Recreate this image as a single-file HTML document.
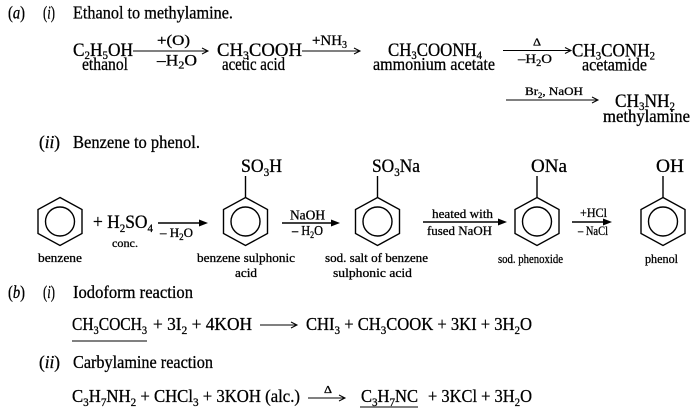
<!DOCTYPE html>
<html>
<head>
<meta charset="utf-8">
<style>
  html, body { margin:0; padding:0; background:#fff; }
  body { width:698px; height:418px; overflow:hidden; }
  svg { display:block; }
  text { font-family:"Liberation Serif", "DejaVu Serif", serif; fill:#000; stroke:#000; stroke-width:0.3px; }
  .m { font-size:18px; }
  .f { font-size:19px; }
  .s { font-size:13px; }
  .it { font-style:italic; }
</style>
</head>
<body>
<svg width="698" height="418" viewBox="0 0 698 418" xmlns="http://www.w3.org/2000/svg">
  <!-- ================= (a)(i) ================= -->
  <text class="m" x="8" y="18.5" textLength="17" lengthAdjust="spacingAndGlyphs">(<tspan class="it">a</tspan>)</text>
  <text class="m" x="43" y="18.5" textLength="12" lengthAdjust="spacingAndGlyphs">(<tspan class="it">i</tspan>)</text>
  <text class="m" x="73" y="18.5" textLength="160" lengthAdjust="spacingAndGlyphs">Ethanol to methylamine.</text>

  <!-- C2H5OH -->
  <text class="f" x="73" y="56" textLength="60" lengthAdjust="spacingAndGlyphs">C<tspan dy="3" font-size="12">2</tspan><tspan dy="-3">H</tspan><tspan dy="3" font-size="12">5</tspan><tspan dy="-3">OH</tspan></text>
  <text class="m" x="82" y="70" textLength="46" lengthAdjust="spacingAndGlyphs">ethanol</text>

  <!-- arrow 1 -->
  <line x1="133" y1="51" x2="208" y2="51" stroke="#000" stroke-width="1"/>
  <path d="M202,48 L208,51 L202,54" fill="none" stroke="#000" stroke-width="1"/>
  <text x="157" y="45" font-size="15" textLength="33" lengthAdjust="spacingAndGlyphs">+(O)</text>
  <text x="157" y="65.5" font-size="16" textLength="40" lengthAdjust="spacingAndGlyphs">–H<tspan dy="3" font-size="11">2</tspan><tspan dy="-3">O</tspan></text>

  <!-- CH3COOH -->
  <text class="f" x="217" y="56" textLength="85" lengthAdjust="spacingAndGlyphs">CH<tspan dy="3" font-size="12">3</tspan><tspan dy="-3">COOH</tspan></text>
  <text class="m" x="222" y="70" textLength="63" lengthAdjust="spacingAndGlyphs">acetic acid</text>

  <!-- arrow 2 -->
  <line x1="302" y1="51" x2="360" y2="51" stroke="#000" stroke-width="1"/>
  <path d="M354,48 L360,51 L354,54" fill="none" stroke="#000" stroke-width="1"/>
  <text x="312" y="45" font-size="15" textLength="35" lengthAdjust="spacingAndGlyphs">+NH<tspan dy="3" font-size="10">3</tspan></text>

  <!-- CH3COONH4 -->
  <text class="f" x="388" y="56" textLength="94" lengthAdjust="spacingAndGlyphs">CH<tspan dy="3" font-size="12">3</tspan><tspan dy="-3">COONH</tspan><tspan dy="3" font-size="12">4</tspan></text>
  <text class="m" x="373" y="70" textLength="122" lengthAdjust="spacingAndGlyphs">ammonium acetate</text>

  <!-- arrow 3 -->
  <line x1="503" y1="50.5" x2="571" y2="50.5" stroke="#000" stroke-width="1"/>
  <path d="M565,47.5 L571,50.5 L565,53.5" fill="none" stroke="#000" stroke-width="1"/>
  <text x="533" y="45.5" font-size="11" textLength="8" lengthAdjust="spacingAndGlyphs">Δ</text>
  <text x="518" y="63" font-size="13" textLength="34" lengthAdjust="spacingAndGlyphs">–H<tspan dy="3" font-size="9">2</tspan><tspan dy="-3">O</tspan></text>

  <!-- CH3CONH2 -->
  <text class="f" x="572" y="56.5" textLength="83" lengthAdjust="spacingAndGlyphs">CH<tspan dy="3" font-size="12">3</tspan><tspan dy="-3">CONH</tspan><tspan dy="3" font-size="12">2</tspan></text>
  <text class="m" x="582" y="70.5" textLength="65" lengthAdjust="spacingAndGlyphs">acetamide</text>

  <!-- arrow 4 -->
  <text x="525" y="95" font-size="12" textLength="58" lengthAdjust="spacingAndGlyphs">Br<tspan dy="3" font-size="8">2</tspan><tspan dy="-3">, NaOH</tspan></text>
  <line x1="506" y1="100" x2="598" y2="100" stroke="#000" stroke-width="1"/>
  <path d="M592,97 L598,100 L592,103" fill="none" stroke="#000" stroke-width="1"/>

  <text class="f" x="615" y="107" textLength="60" lengthAdjust="spacingAndGlyphs">CH<tspan dy="3" font-size="12">3</tspan><tspan dy="-3">NH</tspan><tspan dy="3" font-size="12">2</tspan></text>
  <text class="m" x="603" y="122" textLength="87" lengthAdjust="spacingAndGlyphs">methylamine</text>

  <!-- ================= (a)(ii) ================= -->
  <text class="m" x="39" y="148" textLength="21" lengthAdjust="spacingAndGlyphs">(<tspan class="it">ii</tspan>)</text>
  <text class="m" x="73" y="148" textLength="127" lengthAdjust="spacingAndGlyphs">Benzene to phenol.</text>

  <g fill="none" stroke="#000" stroke-width="1.4">
    <!-- benzene -->
    <polygon points="60,197.5 82,209.5 82,233.5 60,245.5 38,233.5 38,209.5"/>
    <circle cx="60" cy="221.5" r="14.5"/>
    <!-- benzene sulphonic acid -->
    <polygon points="245.5,197.5 267.5,209.5 267.5,233.5 245.5,245.5 223.5,233.5 223.5,209.5"/>
    <circle cx="245.5" cy="221.5" r="14.5"/>
    <line x1="245.5" y1="176" x2="245.5" y2="197.5"/>
    <!-- sod salt -->
    <polygon points="377.5,197.5 399.5,209.5 399.5,233.5 377.5,245.5 355.5,233.5 355.5,209.5"/>
    <circle cx="377.5" cy="221.5" r="14.5"/>
    <line x1="377.5" y1="176" x2="377.5" y2="197.5"/>
    <!-- phenoxide -->
    <polygon points="537,197.5 559,209.5 559,233.5 537,245.5 515,233.5 515,209.5"/>
    <circle cx="537" cy="221.5" r="14.5"/>
    <line x1="537" y1="176" x2="537" y2="197.5"/>
    <!-- phenol -->
    <polygon points="663,197.5 685,209.5 685,233.5 663,245.5 641,233.5 641,209.5"/>
    <circle cx="663" cy="221.5" r="14.5"/>
    <line x1="663" y1="176" x2="663" y2="197.5"/>
  </g>

  <!-- + H2SO4 -->
  <text class="f" x="93" y="228" textLength="60" lengthAdjust="spacingAndGlyphs">+ H<tspan dy="4" font-size="12">2</tspan><tspan dy="-4">SO</tspan><tspan dy="4" font-size="12">4</tspan></text>
  <text x="112" y="247" font-size="12" textLength="26" lengthAdjust="spacingAndGlyphs">conc.</text>
  <line x1="158" y1="223" x2="200" y2="223" stroke="#000" stroke-width="1.4"/>
  <polygon points="199,219.5 208,223 199,226.5" fill="#000"/>
  <text x="160" y="237" font-size="13" textLength="33" lengthAdjust="spacingAndGlyphs">– H<tspan dy="3" font-size="9">2</tspan><tspan dy="-3">O</tspan></text>
  <text class="s" x="38" y="262" textLength="44" lengthAdjust="spacingAndGlyphs">benzene</text>

  <!-- SO3H -->
  <text class="f" x="241" y="172" textLength="41" lengthAdjust="spacingAndGlyphs">SO<tspan dy="4" font-size="12">3</tspan><tspan dy="-4">H</tspan></text>
  <text class="s" x="197" y="262" textLength="98" lengthAdjust="spacingAndGlyphs">benzene sulphonic</text>
  <text class="s" x="235" y="277" textLength="22" lengthAdjust="spacingAndGlyphs">acid</text>

  <!-- NaOH arrow -->
  <text x="290" y="219.5" font-size="14" textLength="35" lengthAdjust="spacingAndGlyphs">NaOH</text>
  <line x1="282" y1="223" x2="332" y2="223" stroke="#000" stroke-width="1.4"/>
  <polygon points="331,219.5 340,223 331,226.5" fill="#000"/>
  <text x="292" y="235" font-size="14" textLength="31" lengthAdjust="spacingAndGlyphs">– H<tspan dy="3" font-size="9">2</tspan><tspan dy="-3">O</tspan></text>

  <!-- SO3Na -->
  <text class="f" x="372" y="172" textLength="48" lengthAdjust="spacingAndGlyphs">SO<tspan dy="4" font-size="12">3</tspan><tspan dy="-4">Na</tspan></text>
  <text class="s" x="325" y="262" textLength="103" lengthAdjust="spacingAndGlyphs">sod. salt of benzene</text>
  <text class="s" x="333" y="277" textLength="79" lengthAdjust="spacingAndGlyphs">sulphonic acid</text>

  <!-- heated with arrow -->
  <text class="s" x="432" y="218" textLength="61" lengthAdjust="spacingAndGlyphs">heated with</text>
  <line x1="423" y1="222" x2="499" y2="222" stroke="#000" stroke-width="1.4"/>
  <polygon points="498,218.5 507,222 498,225.5" fill="#000"/>
  <text class="s" x="427" y="235" textLength="65" lengthAdjust="spacingAndGlyphs">fused NaOH</text>

  <!-- ONa -->
  <text class="f" x="531" y="172" textLength="36" lengthAdjust="spacingAndGlyphs">ONa</text>
  <text class="s" x="498" y="263" textLength="65" lengthAdjust="spacingAndGlyphs">sod. phenoxide</text>

  <!-- +HCl arrow -->
  <text class="s" x="580" y="217" textLength="27" lengthAdjust="spacingAndGlyphs">+HCl</text>
  <line x1="572" y1="222" x2="604" y2="222" stroke="#000" stroke-width="1.4"/>
  <polygon points="603,218.5 612,222 603,225.5" fill="#000"/>
  <text class="s" x="578" y="235" textLength="30" lengthAdjust="spacingAndGlyphs">– NaCl</text>

  <!-- OH -->
  <text class="f" x="656" y="172" textLength="28" lengthAdjust="spacingAndGlyphs">OH</text>
  <text class="s" x="645" y="263" textLength="33" lengthAdjust="spacingAndGlyphs">phenol</text>

  <!-- ================= (b) ================= -->
  <text class="m" x="8" y="298" textLength="17" lengthAdjust="spacingAndGlyphs">(<tspan class="it">b</tspan>)</text>
  <text class="m" x="43" y="298" textLength="12" lengthAdjust="spacingAndGlyphs">(<tspan class="it">i</tspan>)</text>
  <text class="m" x="73" y="298" textLength="120" lengthAdjust="spacingAndGlyphs">Iodoform reaction</text>

  <text class="m" x="72" y="330" textLength="75" lengthAdjust="spacingAndGlyphs">CH<tspan dy="4" font-size="12">3</tspan><tspan dy="-4">COCH</tspan><tspan dy="4" font-size="12">3</tspan></text>
  <line x1="72" y1="341" x2="147" y2="341" stroke="#000" stroke-width="1"/>
  <text class="m" x="153" y="330" textLength="99" lengthAdjust="spacingAndGlyphs">+ 3I<tspan dy="4" font-size="12">2</tspan><tspan dy="-4"> + 4KOH</tspan></text>
  <line x1="260" y1="325" x2="297" y2="325" stroke="#000" stroke-width="1"/>
  <path d="M291,322 L297,325 L291,328" fill="none" stroke="#000" stroke-width="1"/>
  <text class="m" x="306" y="330" textLength="226" lengthAdjust="spacingAndGlyphs">CHI<tspan dy="4" font-size="12">3</tspan><tspan dy="-4"> + CH</tspan><tspan dy="4" font-size="12">3</tspan><tspan dy="-4">COOK + 3KI + 3H</tspan><tspan dy="4" font-size="12">2</tspan><tspan dy="-4">O</tspan></text>

  <text class="m" x="39" y="368" textLength="21" lengthAdjust="spacingAndGlyphs">(<tspan class="it">ii</tspan>)</text>
  <text class="m" x="73" y="368" textLength="140" lengthAdjust="spacingAndGlyphs">Carbylamine reaction</text>

  <text class="m" x="72" y="402" textLength="228" lengthAdjust="spacingAndGlyphs">C<tspan dy="4" font-size="12">3</tspan><tspan dy="-4">H</tspan><tspan dy="4" font-size="12">7</tspan><tspan dy="-4">NH</tspan><tspan dy="4" font-size="12">2</tspan><tspan dy="-4"> + CHCl</tspan><tspan dy="4" font-size="12">3</tspan><tspan dy="-4"> + 3KOH (alc.)</tspan></text>
  <line x1="308" y1="398" x2="345" y2="398" stroke="#000" stroke-width="1"/>
  <path d="M339,395 L345,398 L339,401" fill="none" stroke="#000" stroke-width="1"/>
  <text x="324" y="393" font-size="10" textLength="8" lengthAdjust="spacingAndGlyphs">Δ</text>
  <text class="m" x="361" y="402" textLength="57" lengthAdjust="spacingAndGlyphs">C<tspan dy="4" font-size="12">3</tspan><tspan dy="-4">H</tspan><tspan dy="4" font-size="12">7</tspan><tspan dy="-4">NC</tspan></text>
  <line x1="360" y1="407" x2="418" y2="407" stroke="#000" stroke-width="1"/>
  <text class="m" x="428" y="402" textLength="104" lengthAdjust="spacingAndGlyphs">+ 3KCl + 3H<tspan dy="4" font-size="12">2</tspan><tspan dy="-4">O</tspan></text>
</svg>
</body>
</html>
